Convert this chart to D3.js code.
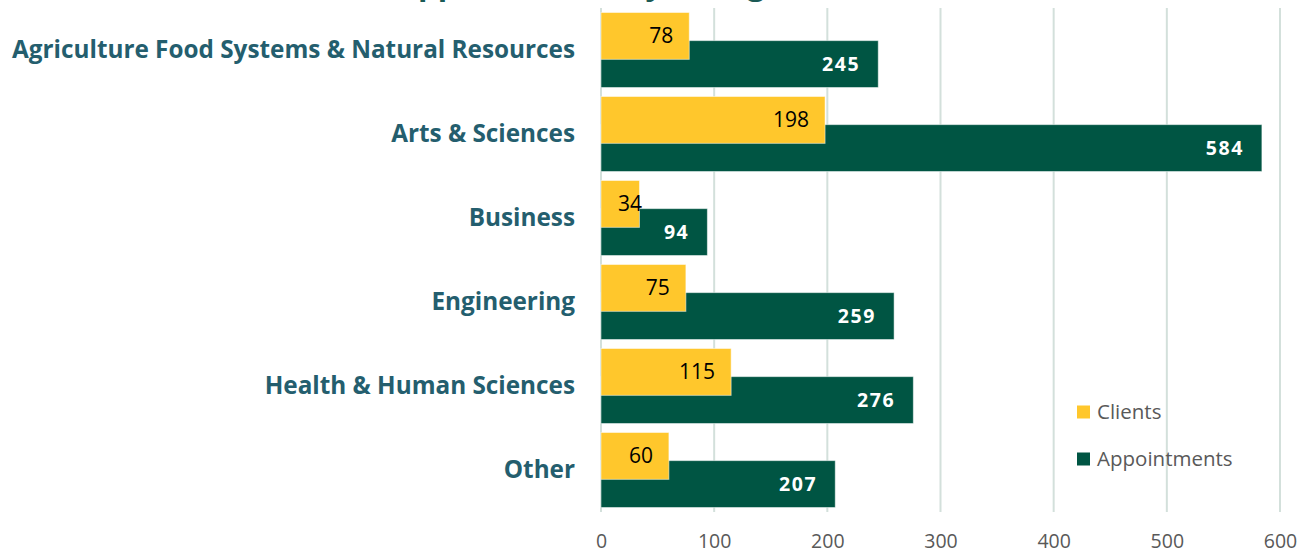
<!DOCTYPE html>
<html><head><meta charset="utf-8">
<script src="https://cdn.jsdelivr.net/npm/d3@7"></script>
<style>html,body{margin:0;padding:0;background:#fff;overflow:hidden}</style>
</head><body>
<svg id="chart" width="1314" height="554"></svg>
<script>
const categories = ["Agriculture Food Systems & Natural Resources","Arts & Sciences","Business","Engineering","Health & Human Sciences","Other"];
const clients = [78,198,34,75,115,60];
const appointments = [245,584,94,259,276,207];
const xTicks = [0,100,200,300,400,500,600];
const seriesNames = ["Clients","Appointments"];
const titleText = "Appointments by College";

const colClients = "#FFC72C", colAppt = "#005543", labelCol = "#245E6E", axisCol = "#595959", gridCol = "#D3E0DB";
const svg = d3.select("#chart");
const x = d3.scaleLinear().domain([0,600]).range([601,1280]);
const y = d3.scaleBand().domain(categories).range([8,512]).paddingInner(0.107).paddingOuter(0.0535);
const barH = y.bandwidth()*0.625;

// title (mostly cut off at top, as in the original)
const title = svg.append("text").attr("x",400).attr("y",-5).attr("text-anchor","start")
  .attr("font-family","Open Sans").attr("font-weight","bold").attr("font-size",31)
  .attr("fill","#1B5A55").text(titleText);
const p1 = title.node().getStartPositionOfChar(1).x;
title.attr("x",400 + (418 - p1));

// gridlines
svg.append("g").selectAll("line").data(xTicks).join("line")
  .attr("x1",d=>x(d)).attr("x2",d=>x(d)).attr("y1",8).attr("y2",512)
  .attr("stroke",gridCol).attr("stroke-width",2);

// x axis labels
const xAxis = svg.append("g").attr("transform","translate(0,512)")
  .call(d3.axisBottom(x).tickValues(xTicks).tickSize(0).tickPadding(22));
xAxis.select(".domain").remove();
xAxis.selectAll("text").attr("font-family","Open Sans").attr("font-size",19.5).attr("fill",axisCol);

// category labels
svg.append("g").selectAll("text").data(categories).join("text")
  .attr("x",575).attr("y",d=>y(d)+y.bandwidth()/2-1).attr("dy","0.35em")
  .attr("text-anchor","end").attr("font-family","Open Sans").attr("font-weight","bold")
  .attr("font-size",24.3).attr("fill",labelCol).text(d=>d);

// appointments bars
svg.append("g").selectAll("rect").data(appointments).join("rect")
  .attr("x",x(0)).attr("y",(d,i)=>y(categories[i])+y.bandwidth()-barH)
  .attr("width",d=>x(d)-x(0)).attr("height",barH).attr("fill",colAppt)
  .attr("stroke","#ffffff").attr("stroke-opacity",0.5).attr("stroke-width",1);
// clients bars on top
svg.append("g").selectAll("rect").data(clients).join("rect")
  .attr("x",x(0)).attr("y",(d,i)=>y(categories[i]))
  .attr("width",d=>x(d)-x(0)).attr("height",barH).attr("fill",colClients)
  .attr("stroke","#ffffff").attr("stroke-opacity",0.5).attr("stroke-width",1);

// appointment labels
svg.append("g").selectAll("text").data(appointments).join("text")
  .attr("x",d=>x(d)-18).attr("y",(d,i)=>y(categories[i])+y.bandwidth()-barH/2).attr("dy","0.36em")
  .attr("text-anchor","end").attr("font-family","Open Sans").attr("font-weight","bold")
  .attr("font-size",19.5).attr("letter-spacing","1.6px").attr("fill","#fff").text(d=>d);

// clients labels
const cl = svg.append("g").selectAll("text").data(clients).join("text")
  .attr("y",(d,i)=>y(categories[i])+barH/2).attr("dy","0.36em")
  .attr("text-anchor","end").attr("font-family","Open Sans")
  .attr("font-size",21).attr("fill","#000").text(d=>d);
cl.each(function(d){
  const w = this.getComputedTextLength();
  const end = Math.max(x(d)-16, x(0)+17+w);
  d3.select(this).attr("x",end);
});

// legend
const leg = svg.append("g");
[colClients,colAppt].forEach((c,i)=>{
  const yy = 412 + i*47;
  leg.append("rect").attr("x",1077).attr("y",yy-6.5).attr("width",13).attr("height",13).attr("fill",c);
  leg.append("text").attr("x",1097).attr("y",yy).attr("dy","0.35em")
    .attr("font-family","Open Sans").attr("font-size",20.5).attr("fill",axisCol).text(seriesNames[i]);
});
</script>
</body></html>
